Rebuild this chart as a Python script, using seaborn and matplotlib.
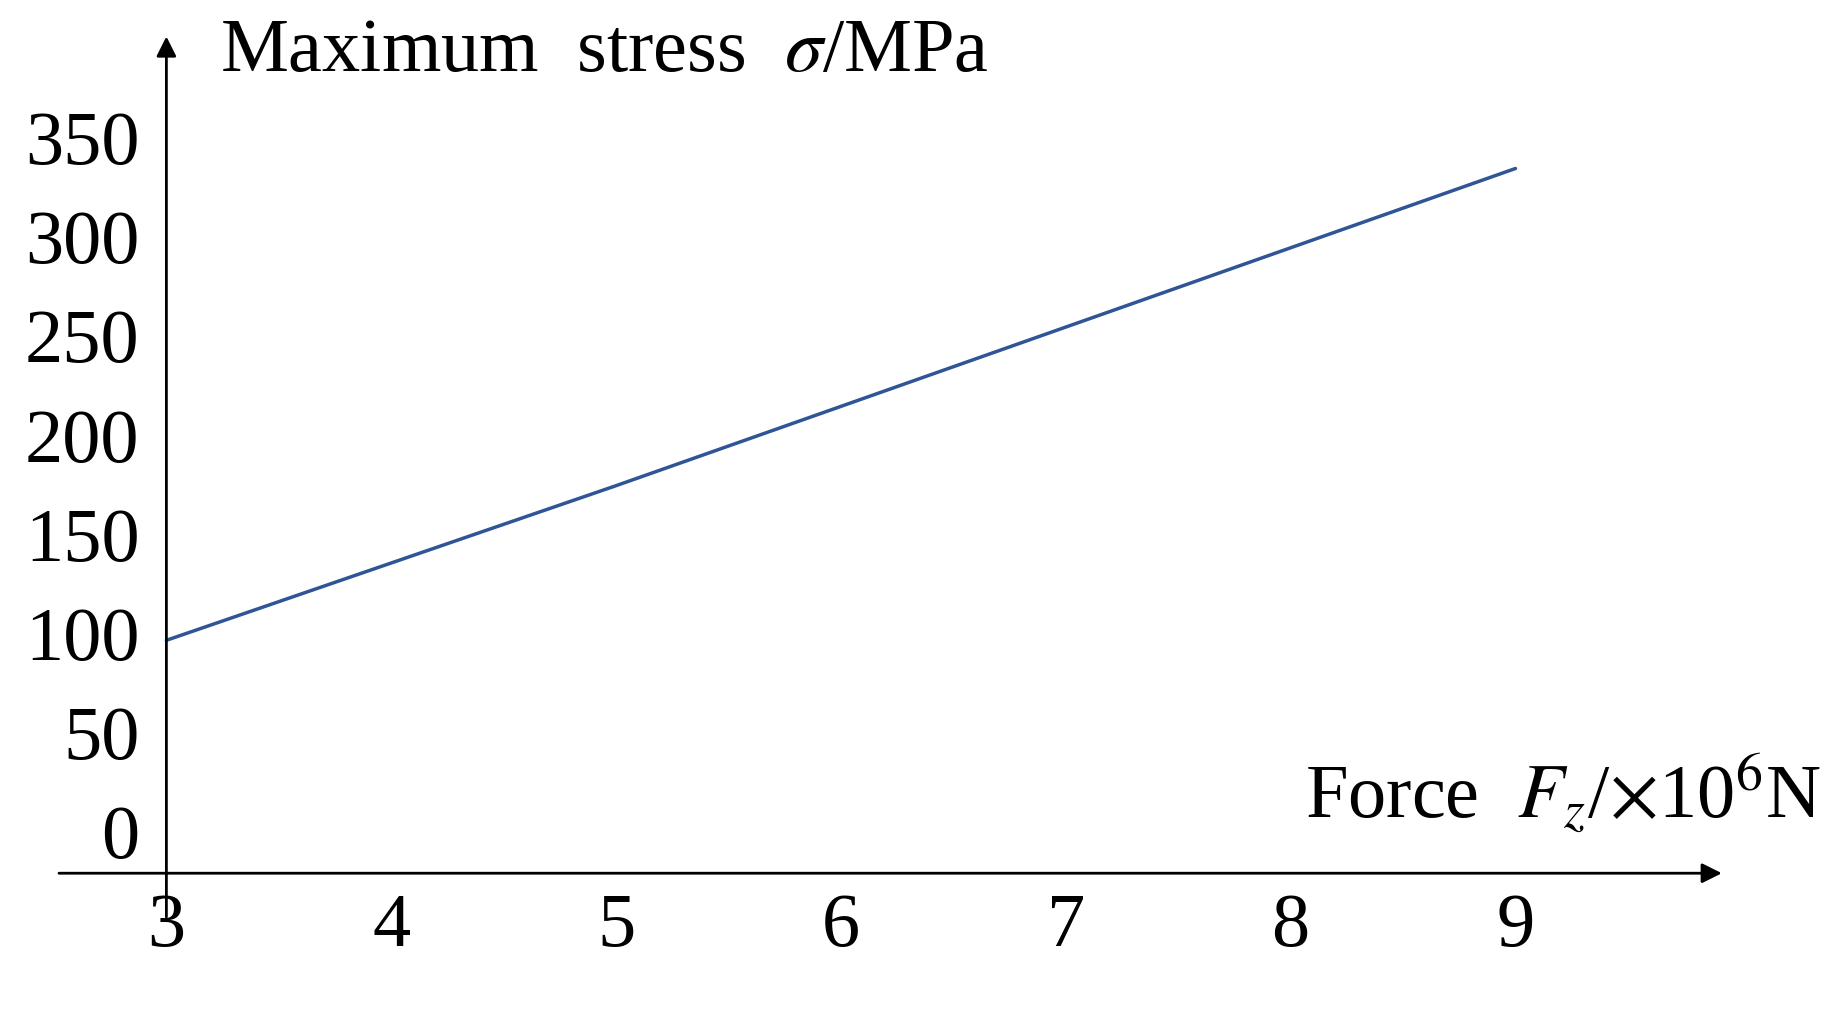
import matplotlib
matplotlib.use("Agg")
import matplotlib.pyplot as plt
import seaborn as sns
import pandas as pd

# data
force = [3, 4, 5, 6, 7, 8, 9]
stress = [100, 139, 178, 218, 258, 298, 338]
xticks = [3, 4, 5, 6, 7, 8, 9]
yticks = [0, 50, 100, 150, 200, 250, 300, 350]

sns.set_style("white")
plt.rcParams['font.family'] = ['Liberation Serif', 'DejaVu Serif']
plt.rcParams['mathtext.fontset'] = 'stix'

df = pd.DataFrame({"force": force, "stress": stress})

fig = plt.figure(figsize=(18.28, 10.12), dpi=100)
ax = fig.add_axes([0.0, 0.0, 1.0, 1.0])
sns.lineplot(data=df, x="force", y="stress", ax=ax, color="#2f5597", linewidth=2.5)

ax.set_xlim(2.26, 10.39)
ax.set_ylim(-87, 423.5)
for s in ax.spines.values():
    s.set_visible(False)

# axes with arrows
ax.annotate("", xy=(9.93, -17.5), xytext=(2.51, -17.5),
            arrowprops=dict(arrowstyle="-|>", color="black", lw=2, mutation_scale=30))
ax.annotate("", xy=(3, 406), xytext=(3, -41),
            arrowprops=dict(arrowstyle="-|>", color="black", lw=2, mutation_scale=30))

ax.set_xticks([])
ax.set_yticks([])
ax.set_xlabel("")
ax.set_ylabel("")
fs = 55
for x in xticks:
    ax.text(x, -27, str(x), ha="center", va="top", fontsize=fs, color="black")
for y in yticks:
    ax.text(2.88, y, str(y), ha="right", va="center", fontsize=fs, color="black")

ax.text(3.24, 397, r"Maximum  stress  $\sigma$/MPa", ha="left", va="center",
        fontsize=fs, color="black")
ax.text(10.36, 23, r"Force  $F_z$/$\times$10$^6$N", ha="right", va="center",
        fontsize=fs, color="black")

fig.savefig("out.png", dpi=100)
